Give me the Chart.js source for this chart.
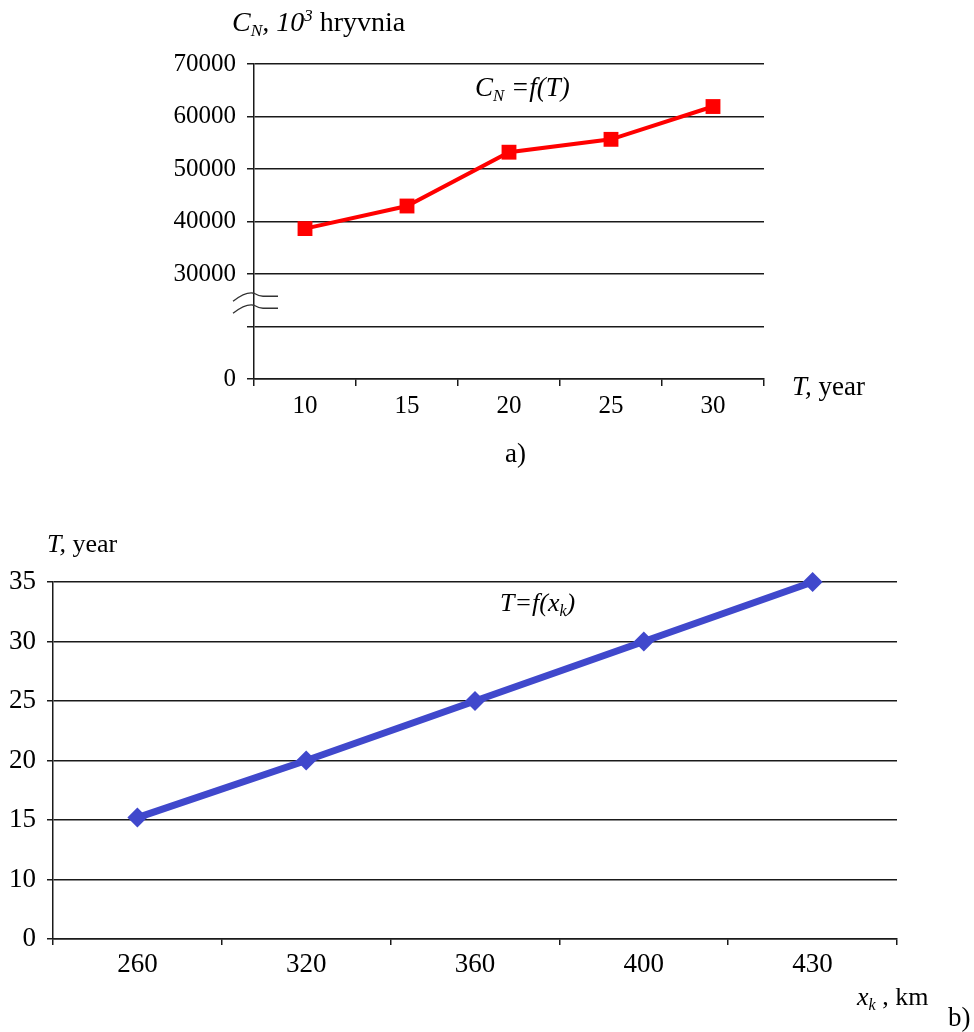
<!DOCTYPE html>
<html>
<head>
<meta charset="utf-8">
<script src="https://cdn.jsdelivr.net/npm/chart.js@4"></script>
<style>
  body { margin: 0; background: #fff; }
  #page { position: relative; width: 974px; height: 1032px; }
  canvas { position: absolute; left: 0; }
  .txt { position: absolute; font-family: "Liberation Serif", serif; color: #000; line-height: 1; white-space: nowrap; }
  .sb { font-size: 0.62em; position: relative; top: 0.3em; }
  .sp { font-size: 0.6em; position: relative; top: -0.6em; }
</style>
</head>
<body>
<div id="page">
  <canvas id="chartA" width="974" height="440" style="top:0"></canvas>
  <canvas id="chartB" width="974" height="560" style="top:470px"></canvas>

  <div class="txt" style="left:232px; top:8px; font-size:28px"><i>C</i><i class="sb">N</i><i>, 10</i><i class="sp">3</i> hryvnia</div>
  <div class="txt" style="left:475px; top:74px; font-size:27px"><i>C</i><i class="sb">N</i> <i>=f(T)</i></div>
  <div class="txt" style="left:792px; top:373px; font-size:27px"><i>T,</i> year</div>
  <div class="txt" style="left:505px; top:440px; font-size:27px">a)</div>

  <div class="txt" style="left:47px; top:531px; font-size:26px"><i>T,</i> year</div>
  <div class="txt" style="left:500px; top:590px; font-size:26px"><i>T=f(x</i><i class="sb">k</i><i>)</i></div>
  <div class="txt" style="left:857px; top:984px; font-size:26px"><i>x</i><i class="sb">k</i> , km</div>
  <div class="txt" style="left:948px; top:1004px; font-size:27px">b)</div>
</div>

<script>
"use strict";

// chart a) cost vs term
const termLabels = ["10", "15", "20", "25", "30"];
const costValues = [38650, 42950, 53200, 55650, 61900];
const costTicks = [0, "", 30000, 40000, 50000, 60000, 70000];

// chart b) term vs distance
const distLabels = ["260", "320", "360", "400", "430"];
const termValues = [15.2, 20, 25, 30, 35];
const termTicks = [0, 10, 15, 20, 25, 30, 35];

Chart.defaults.font.family = "Liberation Serif";
Chart.defaults.color = "#000";

const gridColor = "#1a1a1a";

// broken y axis: the lowest ticks get relabelled (0 at the bottom)
function brokenLabel(tickList) {
  return function (value, index) {
    return String(tickList[index] ?? "");
  };
}

const breakMark = {
  id: "breakMark",
  afterDraw(chart) {
    const ctx = chart.ctx;
    const y = chart.scales.y.getPixelForValue(25000);
    const x = chart.chartArea.left;
    ctx.save();
    ctx.strokeStyle = "#333";
    ctx.lineWidth = 1.3;
    [-5, 7].forEach((dy) => {
      ctx.beginPath();
      ctx.moveTo(x - 21, y + dy + 6);
      ctx.quadraticCurveTo(x - 8, y + dy - 4, x, y + dy - 2);
      ctx.quadraticCurveTo(x + 5, y + dy + 1, x + 9, y + dy + 1);
      ctx.lineTo(x + 24, y + dy + 1);
      ctx.stroke();
    });
    ctx.restore();
  },
};

function fixWidth(w) {
  return function (scale) { scale.width = w; };
}
function fixHeight(h) {
  return function (scale) { scale.height = h; };
}

const chartA = new Chart(document.getElementById("chartA"), {
  type: "line",
  data: {
    labels: termLabels,
    datasets: [
      {
        data: costValues,
        borderColor: "#ff0000",
        backgroundColor: "#ff0000",
        borderWidth: 4,
        pointStyle: "rect",
        pointRadius: 10.5,
        pointBorderWidth: 0,
        tension: 0,
        clip: false,
      },
    ],
  },
  options: {
    responsive: false,
    animation: false,
    layout: { padding: { top: 64, right: 210, left: 0, bottom: 0 } },
    plugins: { legend: { display: false }, tooltip: { enabled: false } },
    scales: {
      x: {
        type: "category",
        offset: true,
        afterFit: fixHeight(61),
        grid: { offset: true, drawOnChartArea: false, drawTicks: true, tickLength: 7, color: gridColor, lineWidth: 1.5 },
        border: { color: gridColor, width: 1.5 },
        ticks: { font: { size: 25 }, padding: 5, color: "#000" },
      },
      y: {
        type: "linear",
        min: 10000,
        max: 70000,
        afterFit: fixWidth(254),
        grid: { color: gridColor, lineWidth: 1.5, tickLength: 7 },
        border: { color: gridColor, width: 1.5 },
        ticks: { stepSize: 10000, font: { size: 25 }, padding: 11, color: "#000", callback: brokenLabel(costTicks) },
      },
    },
  },
  plugins: [breakMark],
});

const chartB = new Chart(document.getElementById("chartB"), {
  type: "line",
  data: {
    labels: distLabels,
    datasets: [
      {
        data: termValues,
        borderColor: "#4048cc",
        backgroundColor: "#4048cc",
        borderWidth: 7,
        pointStyle: "rectRot",
        pointRadius: 10,
        pointBorderWidth: 0,
        tension: 0,
        clip: false,
      },
    ],
  },
  options: {
    responsive: false,
    animation: false,
    layout: { padding: { top: 112, right: 77, left: 0, bottom: 0 } },
    plugins: { legend: { display: false }, tooltip: { enabled: false } },
    scales: {
      x: {
        type: "category",
        offset: true,
        afterFit: fixHeight(91),
        grid: { offset: true, drawOnChartArea: false, drawTicks: true, tickLength: 6, color: gridColor, lineWidth: 1.5 },
        border: { color: gridColor, width: 1.5 },
        ticks: { font: { size: 27 }, padding: 4, color: "#000" },
      },
      y: {
        type: "linear",
        min: 5,
        max: 35,
        afterFit: fixWidth(53),
        grid: { color: gridColor, lineWidth: 1.5, tickLength: 6 },
        border: { color: gridColor, width: 1.5 },
        ticks: { stepSize: 5, font: { size: 27 }, padding: 11, color: "#000", callback: brokenLabel(termTicks) },
      },
    },
  },
});
</script>
</body>
</html>
